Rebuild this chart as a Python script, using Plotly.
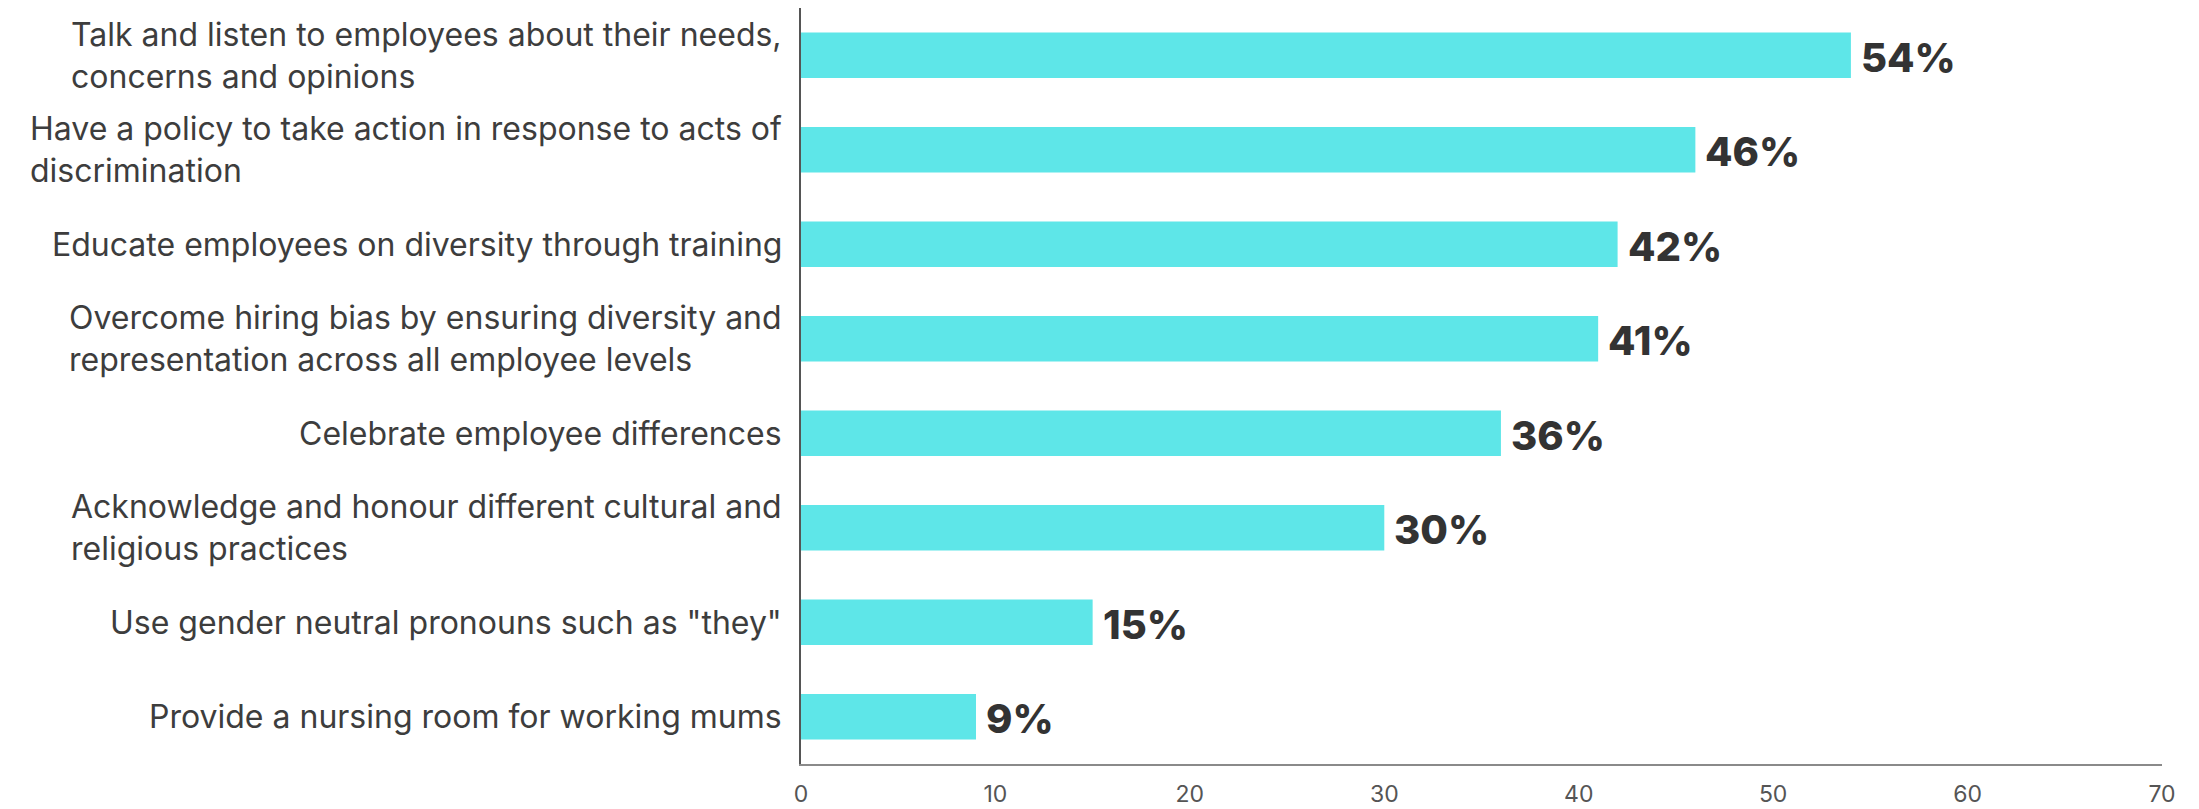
import plotly.graph_objects as go

categories = [
    "Talk and listen to employees about their needs,<br>concerns and opinions",
    "Have a policy to take action in response to acts of<br>discrimination",
    "Educate employees on diversity through training",
    "Overcome hiring bias by ensuring diversity and<br>representation across all employee levels",
    "Celebrate employee differences",
    "Acknowledge and honour different cultural and<br>religious practices",
    "Use gender neutral pronouns such as \"they\"",
    "Provide a nursing room for working mums",
]
values = [54, 46, 42, 41, 36, 30, 15, 9]
value_labels = [f"{v}%" for v in values]
x_ticks = [0, 10, 20, 30, 40, 50, 60, 70]

BAR = "#5ee6e8"

fig = go.Figure()
fig.add_trace(go.Bar(
    x=values,
    y=categories,
    orientation="h",
    marker=dict(color=BAR, line=dict(width=0)),
    cliponaxis=False,
    hoverinfo="skip",
))

for cat, v, lab in zip(categories, values, value_labels):
    fig.add_annotation(
        x=0, xref="paper", y=cat, yref="y",
        text=cat, showarrow=False,
        xanchor="right", yanchor="middle", align="left",
        xshift=-17,
        font=dict(family="Inter", size=32, color="#3d3d3d"),
    )
    fig.add_annotation(
        x=v, xref="x", y=cat, yref="y",
        text=lab, showarrow=False,
        xanchor="left", yanchor="middle",
        xshift=8, yshift=-2,
        font=dict(family="Inter", size=40, color="#333333", weight=800),
    )

fig.update_layout(
    width=2199, height=809,
    margin=dict(l=801, r=37, t=8, b=45),
    paper_bgcolor="white", plot_bgcolor="white",
    bargap=0.52,
    showlegend=False,
)
fig.update_xaxes(
    automargin=False,
    range=[0, 70], tickvals=x_ticks,
    showgrid=False, zeroline=False,
    showline=True, linecolor="#8a8a8a", linewidth=2,
    tickfont=dict(family="Inter", size=23, color="#555555"),
    ticks="outside", ticklen=8, tickcolor="rgba(0,0,0,0)",
)
fig.update_yaxes(
    automargin=False,
    categoryorder="array", categoryarray=categories[::-1],
    range=[-0.5, 7.5],
    showticklabels=False, showgrid=False, zeroline=False,
    showline=True, linecolor="#555555", linewidth=2,
)

fig.write_html("out.html")
